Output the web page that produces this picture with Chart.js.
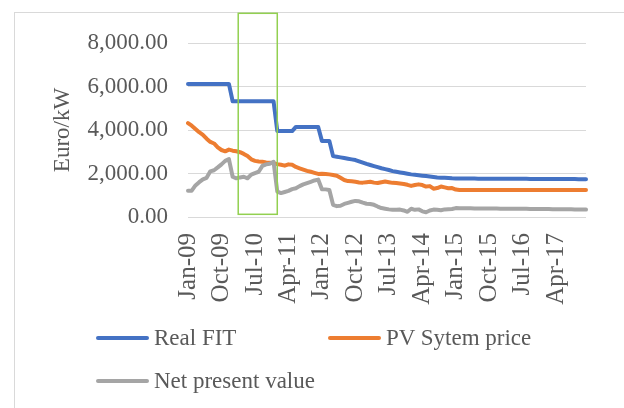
<!DOCTYPE html>
<html>
<head>
<meta charset="utf-8">
<script src="https://cdn.jsdelivr.net/npm/chart.js@4"></script>
<style>
    html, body { margin: 0; padding: 0; background: #fff; }
    body { width: 624px; height: 408px; position: relative; overflow: hidden; font-family: "Liberation Serif", serif; }
    .frame { position: absolute; left: 14px; top: 12px; width: 800px; height: 600px; border: 1px solid #d9d9d9; }
    .wrap { position: absolute; left: 0; top: 0; width: 624px; height: 408px; }
    .legend-item { position: absolute; display: flex; align-items: center; color: #595959; font-size: 23px; }
    .legend-item .swatch { width: 53px; height: 4px; border-radius: 2px; margin-right: 5px; }
</style>
</head>
<body>
<div class="frame"></div>
<div class="wrap"><canvas id="chart" width="624" height="408"></canvas></div>
<div id="legend"></div>

<script>
// Months Jan-09 .. Dec-17
const monthNames = ['Jan', 'Feb', 'Mar', 'Apr', 'May', 'Jun', 'Jul', 'Aug', 'Sep', 'Oct', 'Nov', 'Dec'];
const years = ['09', '10', '11', '12', '13', '14', '15', '16', '17'];
const categories = [];
years.forEach(y => monthNames.forEach(m => categories.push(m + '-' + y)));

const yTicks = [0, 2000, 4000, 6000, 8000];

const realFit = [
    6120, 6120, 6120, 6120, 6120, 6120, 6120, 6120, 6120, 6120, 6120, 6120,
    5320, 5320, 5320, 5320, 5320, 5320, 5320, 5320, 5320, 5320, 5320, 5320,
    3950, 3950, 3950, 3950, 3950,
    4140, 4140, 4140, 4140, 4140, 4140, 4140,
    3500, 3500, 3500,
    2800, 2770, 2740, 2710, 2680, 2650, 2620,
    2560, 2500, 2440, 2390, 2340, 2290, 2240, 2200, 2160, 2110,
    2080, 2050, 2020, 1990, 1960, 1940, 1920, 1900, 1880, 1860, 1840, 1820, 1810, 1800, 1790, 1780, 1775,
    1770, 1770, 1768, 1766, 1765, 1764, 1763, 1762, 1761, 1760,
    1760, 1759, 1758, 1757, 1756, 1755, 1755, 1754, 1753, 1752,
    1751, 1750, 1750, 1749, 1748, 1747, 1746, 1745, 1745, 1744,
    1743, 1742, 1741, 1740, 1740
];

const pvPrice = [
    4320, 4200, 4050, 3900, 3780, 3600, 3450, 3380, 3200, 3080, 3020, 3100,
    3050, 3020, 2980, 2900, 2800, 2650, 2580, 2550, 2540, 2510, 2500, 2470,
    2430, 2400, 2360, 2420, 2400, 2300, 2240, 2180, 2120, 2080, 2030, 1980,
    1990, 1980, 1960, 1930, 1900, 1800, 1700, 1650, 1640, 1620, 1590, 1580,
    1600, 1620, 1580, 1560, 1600, 1630, 1600, 1570, 1560, 1540, 1520, 1480,
    1430, 1470, 1500, 1470, 1400, 1420, 1300, 1330, 1400, 1360, 1320, 1330,
    1260, 1240, 1240, 1240, 1240, 1240, 1240, 1240, 1240, 1240, 1240, 1240,
    1240, 1240, 1240, 1240, 1240, 1240, 1240, 1240, 1240, 1240, 1240, 1240,
    1240, 1240, 1240, 1240, 1240, 1240, 1240, 1240, 1240, 1240, 1240, 1240
];

const npv = [
    1210, 1210, 1450, 1600, 1730, 1800, 2100, 2150, 2280, 2420, 2580, 2660,
    1850, 1780, 1820, 1850, 1780, 1950, 2020, 2080, 2350, 2420, 2450, 2540,
    1170, 1100, 1150, 1200, 1280, 1320, 1420, 1500, 1560, 1620, 1680, 1720,
    1280, 1270, 1240, 560, 500, 520, 600, 650, 700, 740, 720, 660,
    610, 600, 560, 480, 410, 380, 350, 330, 330, 340, 300, 240,
    380, 330, 350, 260, 220, 300, 340, 330, 310, 350, 360, 370,
    410, 400, 400, 400, 398, 396, 395, 394, 392, 390, 388, 386,
    385, 384, 382, 380, 378, 376, 375, 374, 372, 370, 368, 366,
    365, 364, 362, 360, 358, 356, 355, 352, 350, 348, 345, 340
];

const seriesNames = ['Real FIT', 'PV Sytem price', 'Net present value'];
const seriesColors = ['#4472C4', '#ED7D31', '#A5A5A5'];
const seriesData = [realFit, pvPrice, npv];

// green highlight box (index range, value range)
const boxFrom = 13.5, boxTo = 24, boxTop = 9366, boxBottom = 124;

const textColor = '#595959';
const serif = "'Liberation Serif', serif";

const highlightBox = {
    id: 'highlightBox',
    afterDatasetsDraw(chart) {
        const x = chart.scales.x, y = chart.scales.y;
        const ctx = chart.ctx;
        const l = x.getPixelForValue(boxFrom), r = x.getPixelForValue(boxTo);
        const t = y.getPixelForValue(boxTop), b = y.getPixelForValue(boxBottom);
        ctx.save();
        ctx.strokeStyle = '#92D050';
        ctx.lineWidth = 1.5;
        ctx.strokeRect(l, t, r - l, b - t);
        ctx.restore();
    }
};

new Chart(document.getElementById('chart'), {
    type: 'line',
    data: {
        labels: categories,
        datasets: seriesData.map((d, i) => ({
            label: seriesNames[i],
            data: d,
            borderColor: seriesColors[i],
            backgroundColor: seriesColors[i],
            borderWidth: 4,
            pointRadius: 0,
            tension: 0,
            borderCapStyle: 'round',
            borderJoinStyle: 'round',
            order: 3 - i
        }))
    },
    options: {
        responsive: false,
        animation: false,
        layout: { padding: { left: 0, right: 27, top: 43, bottom: 0 } },
        plugins: { legend: { display: false }, tooltip: { enabled: false } },
        scales: {
            x: {
                grid: { display: false },
                border: { display: false },
                ticks: {
                    autoSkip: false,
                    minRotation: 90,
                    maxRotation: 90,
                    padding: 8,
                    color: textColor,
                    font: { family: serif, size: 25 },
                    callback: (v, i) => i % 9 === 0 ? categories[i] : ''
                },
                afterFit: s => { s.height = 191; }
            },
            y: {
                min: 0,
                max: 8000,
                afterBuildTicks: s => { s.ticks = yTicks.map(v => ({ value: v })); },
                grid: { color: '#d9d9d9', lineWidth: 1, drawTicks: false },
                border: { display: false },
                ticks: {
                    padding: 20,
                    color: textColor,
                    font: { family: serif, size: 23 },
                    callback: v => v.toLocaleString('en-US', { minimumFractionDigits: 2, maximumFractionDigits: 2 })
                },
                title: {
                    display: true,
                    text: 'Euro/kW',
                    color: textColor,
                    font: { family: serif, size: 23 },
                    padding: { top: 49, bottom: 0 }
                },
                afterFit: s => { s.width = 188; }
            }
        }
    },
    plugins: [highlightBox]
});

// Legend
const legendPos = [[96, 338], [328, 338], [96, 381]];
const legend = document.getElementById('legend');
seriesNames.forEach((name, i) => {
    const item = document.createElement('div');
    item.className = 'legend-item';
    item.style.left = legendPos[i][0] + 'px';
    item.style.top = (legendPos[i][1] - 14) + 'px';
    item.style.height = '28px';
    item.innerHTML = `<span class="swatch" style="background:${seriesColors[i]}"></span><span>${name}</span>`;
    legend.appendChild(item);
});
</script>
</body>
</html>
